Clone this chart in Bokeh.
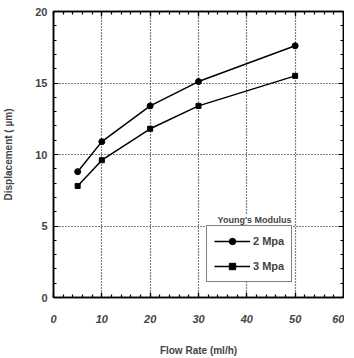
from bokeh.plotting import figure
from bokeh.models import LinearAxis, Legend, LegendItem, Label, Range1d, FixedTicker
from bokeh.embed import file_html
from bokeh.resources import INLINE

flow = [5, 10, 20, 30, 50]
disp_2mpa = [8.8, 10.9, 13.4, 15.1, 17.6]
disp_3mpa = [7.8, 9.6, 11.8, 13.4, 15.5]
x_ticks = [0, 10, 20, 30, 40, 50, 60]
y_ticks = [0, 5, 10, 15, 20]

FONT = "Liberation Sans"

p = figure(frame_width=290, frame_height=286, output_backend="svg", toolbar_location=None,
           x_range=Range1d(0, 60), y_range=Range1d(0, 20),
           x_axis_label="Flow Rate (ml/h)", y_axis_label="Displacement ( \u00b5m)",
           min_border_left=50, min_border_right=1, min_border_top=11, min_border_bottom=46)
p.outline_line_color = "black"
p.outline_line_width = 1.5
p.background_fill_color = "white"
p.border_fill_color = "white"

def style_axis(ax, ticks, labels=True):
    ax.axis_line_color = "black"
    ax.axis_line_width = 1.5
    ax.major_tick_in = 5
    ax.major_tick_out = 0
    ax.minor_tick_in = 3
    ax.minor_tick_out = 0
    ax.major_tick_line_color = "black"
    ax.minor_tick_line_color = "black"
    ax.major_tick_line_width = 1.2
    ax.minor_tick_line_width = 1.2
    if not labels:
        ax.major_label_overrides = {t: "" for t in ticks}
        ax.major_label_standoff = 0

xa = p.xaxis[0]
xa.ticker = FixedTicker(ticks=x_ticks, minor_ticks=list(range(0, 61, 2)))
style_axis(xa, x_ticks)
xa.major_label_text_font = FONT
xa.major_label_text_font_style = "bold italic"
xa.major_label_text_font_size = "11px"
xa.major_label_standoff = 17
xa.axis_label_text_font = FONT
xa.axis_label_text_font_style = "bold"
xa.axis_label_text_font_size = "10px"
xa.axis_label_standoff = 19

ya = p.yaxis[0]
ya.ticker = FixedTicker(ticks=y_ticks, minor_ticks=list(range(0, 21, 1)))
style_axis(ya, y_ticks)
ya.major_label_text_font = FONT
ya.major_label_text_font_style = "bold"
ya.major_label_text_font_size = "11px"
ya.major_label_standoff = 6
ya.axis_label_text_font = FONT
ya.axis_label_text_font_style = "bold"
ya.axis_label_text_font_size = "10px"
ya.axis_label_standoff = 18

ra = LinearAxis(ticker=FixedTicker(ticks=y_ticks, minor_ticks=list(range(0, 21, 1))))
style_axis(ra, y_ticks, labels=False)
p.add_layout(ra, "right")
ta = LinearAxis(ticker=FixedTicker(ticks=x_ticks, minor_ticks=list(range(0, 61, 2))))
style_axis(ta, x_ticks, labels=False)
p.add_layout(ta, "above")

p.xgrid.ticker = FixedTicker(ticks=x_ticks)
p.ygrid.ticker = FixedTicker(ticks=y_ticks)
for g in (p.xgrid[0], p.ygrid[0]):
    g.grid_line_color = "black"
    g.grid_line_dash = "1 2"
    g.grid_line_width = 1.2

l1 = p.line(flow, disp_2mpa, line_color="black", line_width=1.5)
m1 = p.scatter(flow, disp_2mpa, marker="circle", size=6, fill_color="black", line_color="black")
l2 = p.line(flow, disp_3mpa, line_color="black", line_width=1.5)
m2 = p.scatter(flow, disp_3mpa, marker="square", size=5, fill_color="black", line_color="black")

legend = Legend(items=[LegendItem(label="2 Mpa", renderers=[l1, m1]),
                       LegendItem(label="3 Mpa", renderers=[l2, m2])],
                location=(153, 15), border_line_color="black", border_line_width=1.5,
                label_text_font=FONT, label_text_font_style="bold", label_text_font_size="11px",
                glyph_width=36, glyph_height=16, label_height=16, spacing=9,
                padding=7, margin=0, label_standoff=3, background_fill_alpha=1)
p.add_layout(legend, "center")

p.add_layout(Label(x=41.6, y=5.1, text="Young's Modulus", text_align="center",
                   text_font=FONT, text_font_style="bold", text_font_size="9px",
                   background_fill_color="white"))

open("out.html", "w").write(file_html(p, INLINE))
